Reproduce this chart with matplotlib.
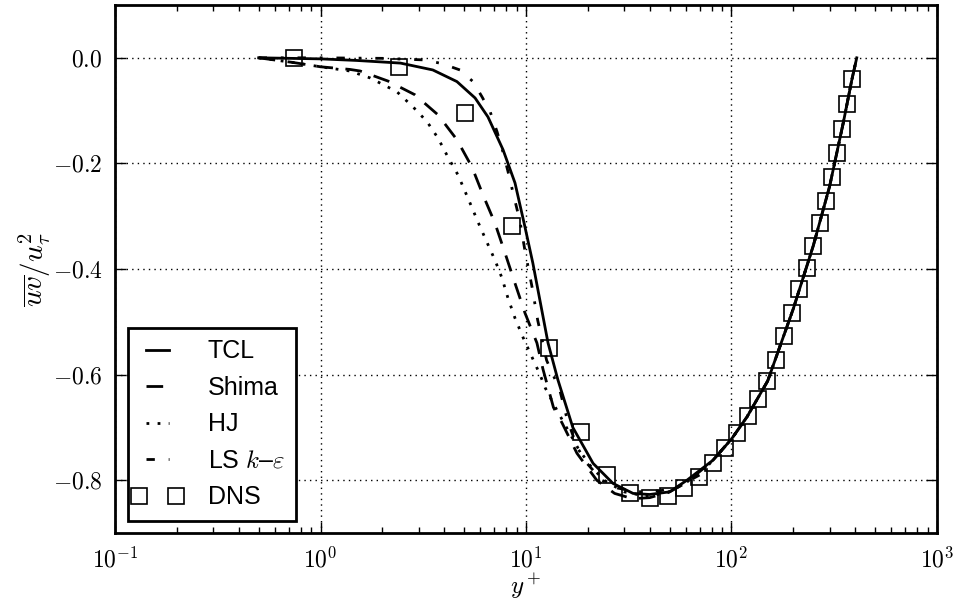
import math
import matplotlib
matplotlib.use("Agg")
import matplotlib.pyplot as plt
from matplotlib.ticker import FuncFormatter, FixedLocator, LogLocator
from matplotlib.legend_handler import HandlerLine2D

plt.rcParams['mathtext.fontset'] = 'cm'
plt.rcParams['font.family'] = ['Liberation Sans', 'DejaVu Sans']

# DNS data
dns_x = [0.74, 2.4, 5.05, 8.55, 12.9, 18.5, 24.8, 32.1, 40.1, 49.1, 58.7, 69.5, 81.3, 93, 106,
         120, 135, 149, 165, 180, 197, 213, 233, 250, 270, 288, 308, 326, 345, 365, 385]
dns_y = [0.0, -0.017, -0.104, -0.318, -0.550, -0.709, -0.790, -0.825, -0.834, -0.830, -0.815,
         -0.794, -0.768, -0.739, -0.711, -0.679, -0.646, -0.612, -0.573, -0.527, -0.483, -0.438,
         -0.398, -0.356, -0.313, -0.271, -0.226, -0.180, -0.135, -0.087, -0.040]

# Outer region shared by all models
outer_x = [119, 150, 200, 250, 300, 350, 385, 407]
outer_y = [-0.680, -0.612, -0.475, -0.356, -0.244, -0.123, -0.042, 0.0]

tcl_x = [0.5, 1.0, 1.5, 2.45, 3.52, 4.61, 5.65, 6.53, 7.73, 8.84, 9.88, 10.8, 12.8, 14.3, 16.9,
         21.2, 26.5, 33.2, 40, 50, 60.7, 81.3, 100] + outer_x
tcl_y = [0.0, -0.002, -0.005, -0.010, -0.023, -0.045, -0.076, -0.112, -0.174, -0.237, -0.320,
         -0.389, -0.540, -0.610, -0.700, -0.768, -0.806, -0.825, -0.827, -0.822, -0.800, -0.762,
         -0.722] + outer_y

shima_x = [0.5, 0.74, 1.0, 1.39, 1.56, 2.13, 2.88, 3.73, 4.61, 5.46, 6.18, 7.06, 7.91, 8.84,
           9.88, 11.3, 12.1, 13.6, 15.0, 17.7, 22.1, 27, 33, 40, 50, 60, 80, 100] + outer_x
shima_y = [0.0, -0.009, -0.017, -0.022, -0.025, -0.044, -0.070, -0.108, -0.155, -0.207, -0.260,
           -0.313, -0.370, -0.427, -0.483, -0.540, -0.590, -0.662, -0.692, -0.749, -0.800,
           -0.825, -0.835, -0.833, -0.822, -0.805, -0.765, -0.722] + outer_y

hj_x = [0.5, 0.74, 1.0, 1.39, 1.74, 2.35, 2.82, 3.30, 3.73, 4.17, 4.67, 5.34, 5.84, 6.45, 7.06,
        7.64, 8.17, 8.84, 9.66, 10.7, 11.7, 12.4, 14.3, 16.0, 17.9, 20.5, 24, 30, 38, 48, 60,
        80, 100] + outer_x
hj_y = [0.0, -0.009, -0.017, -0.025, -0.038, -0.064, -0.093, -0.121, -0.152, -0.188, -0.222,
        -0.275, -0.311, -0.349, -0.383, -0.417, -0.455, -0.493, -0.529, -0.567, -0.600, -0.625,
        -0.671, -0.705, -0.739, -0.772, -0.800, -0.822, -0.830, -0.825, -0.805, -0.765,
        -0.722] + outer_y

ls_x = [0.5, 1.0, 2.0, 3.22, 3.90, 4.77, 5.52, 6.11, 6.69, 7.23, 7.67, 8.17, 8.64, 9.35, 9.88,
        10.7, 11.4, 12.6, 14.6, 15.8, 17.7, 19.8, 23.4, 28, 35, 45, 55, 70, 100] + outer_x
ls_y = [0.0, 0.0, -0.001, -0.004, -0.011, -0.023, -0.045, -0.074, -0.102, -0.140, -0.174,
        -0.215, -0.255, -0.310, -0.365, -0.434, -0.497, -0.573, -0.629, -0.682, -0.737, -0.768,
        -0.800, -0.815, -0.822, -0.820, -0.812, -0.790, -0.722] + outer_y

xticks = [0.1, 1, 10, 100, 1000]
yticks = [0.0, -0.2, -0.4, -0.6, -0.8]

fig = plt.figure(figsize=(9.61, 6.04), dpi=100)
ax = fig.add_axes([0.1197, 0.1175, 0.8553, 0.8742])

ax.plot(tcl_x, tcl_y, color='k', lw=2, ls='-', label='TCL')
ax.plot(shima_x, shima_y, color='k', lw=2, ls=(0, (6, 4.5)), label='Shima')
ax.plot(hj_x, hj_y, color='k', lw=2, ls=(0, (1, 3)), label='HJ')
ax.plot(ls_x, ls_y, color='k', lw=2, ls=(0, (3, 5, 1, 5)), label=r'LS $k$–$\varepsilon$')
dns_line, = ax.plot(dns_x, dns_y, ls='none', marker='s', ms=12, mfc='none', mec='k', mew=1.2,
                    label='DNS')

ax.set_xscale('log')
ax.set_xlim(0.1, 1000)
ax.set_ylim(-0.9, 0.1)
ax.xaxis.set_major_locator(FixedLocator(xticks))
ax.xaxis.set_minor_locator(LogLocator(base=10, subs=range(2, 10)))
ax.xaxis.set_major_formatter(FuncFormatter(lambda v, p: r'$10^{%d}$' % round(math.log10(v))))
ax.yaxis.set_major_locator(FixedLocator(yticks))
ax.yaxis.set_major_formatter(FuncFormatter(lambda v, p: r'$%.1f$' % v if abs(v) > 1e-9 else r'$0.0$'))

ax.tick_params(which='both', direction='in', top=True, right=True, labelsize=17)
ax.tick_params(axis='y', pad=9)
ax.tick_params(axis='x', pad=10)
ax.tick_params(which='major', length=8, width=1)
ax.tick_params(which='minor', length=4, width=1)
for s in ax.spines.values():
    s.set_linewidth(2)

ax.grid(True, which='major', color='k', ls=(0, (1, 3)), lw=1)

ax.set_xlabel(r'$y^+$', fontsize=18, labelpad=0)
ax.set_ylabel(r'$\overline{uv}/u_\tau^2$', fontsize=21, labelpad=0)

leg = ax.legend(loc='lower left', numpoints=2, fontsize=18, handlelength=1.5,
                borderaxespad=0.5, fancybox=False, framealpha=1, labelspacing=0.5,
                handletextpad=1.25, borderpad=0.45,
                handler_map={dns_line: HandlerLine2D(numpoints=2, marker_pad=0.0)})
leg.get_frame().set_edgecolor('k')
leg.get_frame().set_linewidth(2)

fig.savefig('out.png', dpi=100, facecolor='white')
